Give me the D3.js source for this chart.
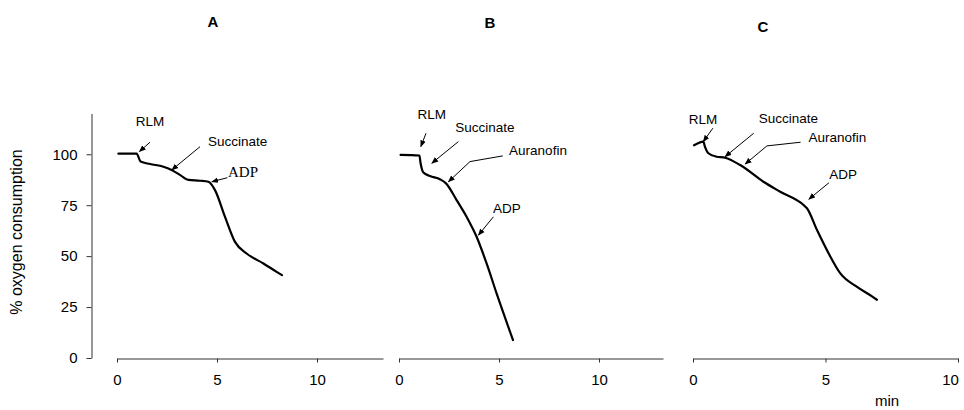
<!DOCTYPE html>
<html>
<head>
<meta charset="utf-8">
<script src="https://cdn.jsdelivr.net/npm/d3@7"></script>
<style>
  body { margin: 0; background: #fff; }
  text { font-family: "Liberation Sans", Arial, sans-serif; fill: #000; }
</style>
</head>
<body>
<script>
// traces: time (min) and % oxygen
const timeA = [0.07, 0.98, 1.18, 1.65, 2.32, 2.73, 3.2, 3.57, 4.15, 4.57, 4.9, 5.4, 5.9, 6.48, 7.32, 7.98, 8.25]
const oxyA  = [100.3, 100.3, 96.4, 95.2, 93.9, 92.3, 89.5, 87.4, 87, 86.5, 82.4, 69.3, 57, 51.3, 46.4, 42.3, 40.7]

const timeB = [0.08, 1.02, 1.08, 1.22, 1.55, 2.05, 2.35, 2.88, 3.38, 3.88, 4.38, 4.88, 5.7]
const oxyB  = [99.7, 99.4, 95.6, 91, 89.3, 87.7, 85.7, 77.5, 69.3, 59.5, 46.4, 31.7, 8.8]

const timeC = [0.04, 0.39, 0.45, 0.58, 0.89, 1.21, 1.78, 2.66, 3.29, 4.17, 4.3, 4.68, 5.12, 5.56, 6.19, 6.69, 6.94]
const oxyC  = [104.4, 106.2, 103.7, 100.5, 98.8, 98.3, 94.7, 86.5, 81.6, 75.1, 73.5, 62.8, 51.3, 41.5, 34.9, 30.8, 28.6]

const yTicks = [0, 25, 50, 75, 100]
const xTicks = [0, 5, 10]
const panelNames = ['A', 'B', 'C']

// annotations: label, label position and leader points in data units
const notesA = [
  {text: 'RLM', at: [1.65, 115.9], pts: [[1.65, 105.9], [1.12, 101.3]]},
  {text: 'Succinate', at: [6.03, 106.5], pts: [[4.15, 103.7], [2.74, 92.3]]},
  {text: 'ADP', at: [6.3, 91.3], pts: [[5.52, 88.5], [4.74, 86.5]], serif: true}
]
const notesB = [
  {text: 'RLM', at: [1.64, 119.3], pts: [[1.35, 110.3], [1.09, 103.7]]},
  {text: 'Succinate', at: [4.3, 113.2], pts: [[2.97, 106.2], [1.64, 95.6]]},
  {text: 'Auranofin', at: [6.95, 101.6], pts: [[5.19, 99.2], [3.55, 96.4], [2.47, 86.5]]},
  {text: 'ADP', at: [5.4, 73.4], pts: [[4.72, 69.3], [3.97, 60.3]]}
]
const notesC = [
  {text: 'RLM', at: [0.38, 116.9], pts: [[0.75, 112.8], [0.39, 106.2]]},
  {text: 'Succinate', at: [3.6, 117.4], pts: [[2.29, 110.3], [1.21, 98.8]]},
  {text: 'Auranofin', at: [5.45, 108], pts: [[4.06, 105.9], [2.79, 104.1], [1.97, 95.2]]},
  {text: 'ADP', at: [5.67, 90.3], pts: [[5.13, 86], [4.37, 77.9]]}
]

function main(){
    var width = 964;
    var height = 410;

    let svg = d3.select("body")
        .append('svg')
        .attr('width', width)
        .attr('height', height)

    svg.append('defs').append('marker')
        .attr('id', 'head')
        .attr('viewBox', '0 0 10 10')
        .attr('refX', 9)
        .attr('refY', 5)
        .attr('markerWidth', 7)
        .attr('markerHeight', 7)
        .attr('markerUnits', 'userSpaceOnUse')
        .attr('orient', 'auto')
        .append('path')
        .attr('d', 'M0,1 L10,5 L0,9 Z')
        .attr('fill', '#000')

    let yScale = d3.scaleLinear()
        .domain([0, 120])
        .range([358, 113.5]);

    const panels = [
        {t: timeA, v: oxyA, notes: notesA, x: d3.scaleLinear().domain([0, 13.3]).range([117, 383]), title: [213, 21]},
        {t: timeB, v: oxyB, notes: notesB, x: d3.scaleLinear().domain([0, 13.2]).range([399, 663]), title: [490, 22]},
        {t: timeC, v: oxyC, notes: notesC, x: d3.scaleLinear().domain([0, 10]).range([693, 958]), title: [763, 26]}
    ]

    // y axis, only on the first panel
    let yAxis = svg.append('g')
        .attr('transform', 'translate(91.5,0)')
        .call(d3.axisLeft(yScale).tickValues(yTicks).tickSize(5).tickSizeOuter(0).tickPadding(9))
    yAxis.selectAll('path, line').attr('stroke', '#333')
    yAxis.selectAll('text').attr('font-size', 15).style('font-family', '"Liberation Sans", Arial, sans-serif')

    svg.append('text')
        .attr('transform', 'translate(22,232) rotate(-90)')
        .attr('text-anchor', 'middle')
        .attr('font-size', 16)
        .text('% oxygen consumption')

    const line = d3.line()
        .x(d => d[0])
        .y(d => d[1])
    const smooth = d3.line()
        .x(d => d[0])
        .y(d => d[1])
        .curve(d3.curveMonotoneX)

    panels.forEach((p, i) => {
        let xAxis = svg.append('g')
            .attr('transform', 'translate(0,358.5)')
            .call(d3.axisBottom(p.x).tickValues(xTicks).tickSize(4).tickSizeOuter(0).tickPadding(12))
        xAxis.selectAll('path, line').attr('stroke', '#333')
        xAxis.selectAll('text').attr('font-size', 15).style('font-family', '"Liberation Sans", Arial, sans-serif')
        if (i == 2) {
            // last label sits a bit left of its tick, as in the figure
            xAxis.selectAll('.tick').filter(d => d == 10).select('text').attr('dx', -8)
        }

        svg.append('text')
            .attr('x', p.title[0])
            .attr('y', p.title[1])
            .attr('text-anchor', 'middle')
            .attr('dominant-baseline', 'central')
            .attr('font-size', 15)
            .attr('font-weight', 'bold')
            .text(panelNames[i])

        svg.append('path')
            .attr('d', smooth(p.t.map((t, j) => [p.x(t), yScale(p.v[j])])))
            .attr('fill', 'none')
            .attr('stroke', '#000')
            .attr('stroke-width', 2.2)
            .attr('stroke-linejoin', 'round')
            .attr('stroke-linecap', 'round')

        p.notes.forEach(n => {
            svg.append('path')
                .attr('d', line(n.pts.map(q => [p.x(q[0]), yScale(q[1])])))
                .attr('fill', 'none')
                .attr('stroke', '#000')
                .attr('stroke-width', 1)
                .attr('marker-end', 'url(#head)')
            svg.append('text')
                .attr('x', p.x(n.at[0]))
                .attr('y', yScale(n.at[1]))
                .attr('text-anchor', 'middle')
                .attr('dominant-baseline', 'central')
                .attr('font-size', n.serif ? 15 : 13.5)
                .style('font-family', n.serif ? '"Liberation Serif", "Times New Roman", serif' : null)
                .text(n.text)
        })
    })

    svg.append('text')
        .attr('x', 887)
        .attr('y', 400)
        .attr('text-anchor', 'middle')
        .attr('dominant-baseline', 'central')
        .attr('font-size', 15)
        .text('min')
}

main()
</script>
</body>
</html>
